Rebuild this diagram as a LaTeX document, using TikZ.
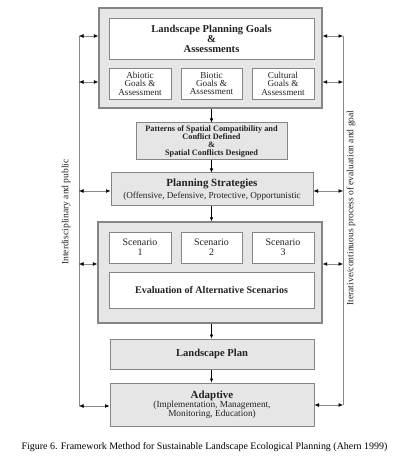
\documentclass[tikz,border=0pt]{standalone}
\usepackage{fontspec}
\setmainfont{Liberation Serif}
\usetikzlibrary{arrows.meta}
\definecolor{boxfill}{HTML}{E6E6E6}
\definecolor{boxline}{HTML}{858585}
\definecolor{sideline}{HTML}{8A8A8A}
\definecolor{txt}{HTML}{222222}
\begin{document}
\begin{tikzpicture}[x=1bp,y=-1bp,
  outerbox/.style={draw=boxline,line width=1.4bp,fill=boxfill,inner sep=0pt},
  whitebox/.style={draw=boxline,line width=0.9bp,fill=white,inner sep=0pt,align=center,text=txt},
  graybox/.style={draw=boxline,line width=1bp,fill=boxfill,inner sep=0pt,align=center,text=txt},
  flow/.style={-{Latex[length=4bp,width=3.5bp]},line width=0.6bp,black},
  side/.style={{Latex[length=4.5bp,width=3.8bp,color=black]}-{Latex[length=4.5bp,width=3.8bp,color=black]},line width=0.5bp,draw=sideline},
  vline/.style={draw=sideline,line width=1bp},
  sidetext/.style={rotate=90,font=\fontsize{9.6}{10}\selectfont,text=txt,inner sep=0pt}
]
\useasboundingbox[fill=white] (0,0) rectangle (408,464);

% outer group 1
\node[outerbox,minimum width=223bp,minimum height=100bp] (outer1) at (210.5,58) {};
\node[whitebox,minimum width=205bp,minimum height=41bp,font=\fontsize{10.6}{10}\selectfont\bfseries] (goals) at (211.5,38.5)
  {Landscape Planning Goals\\\&\\Assessments};
\node[whitebox,minimum width=62bp,minimum height=31bp,font=\fontsize{9.2}{8.5}\selectfont] (abiotic) at (140,83.5)
  {Abiotic\\Goals \&\\Assessment};
\node[whitebox,minimum width=61bp,minimum height=31bp,font=\fontsize{9.2}{8.5}\selectfont] (biotic) at (211.5,83.5)
  {Biotic\\Goals \&\\Assessment};
\node[whitebox,minimum width=62bp,minimum height=31bp,font=\fontsize{9.2}{8.5}\selectfont] (cultural) at (283,83.5)
  {Cultural\\Goals \&\\Assessment};

% patterns
\node[graybox,minimum width=151bp,minimum height=37bp,font=\fontsize{8.3}{8.3}\selectfont\bfseries] (patterns) at (211.5,141.5)
  {Patterns of Spatial Compatibility and\\Conflict Defined\\\&\\Spatial Conflicts Designed};

% planning strategies
\node[graybox,minimum width=202bp,minimum height=33bp,font=\fontsize{9.2}{11.5}\selectfont] (strategies) at (212,189.5)
  {\textbf{\fontsize{11}{11}\selectfont Planning Strategies}\\(Offensive, Defensive, Protective, Opportunistic};

% outer group 2
\node[outerbox,minimum width=224bp,minimum height=101bp] (outer2) at (210,272.5) {};
\node[whitebox,minimum width=62bp,minimum height=31bp,font=\fontsize{10}{10}\selectfont] (sc1) at (140,247.5)
  {Scenario\\1};
\node[whitebox,minimum width=61bp,minimum height=31bp,font=\fontsize{10}{10}\selectfont] (sc2) at (211.5,247.5)
  {Scenario\\2};
\node[whitebox,minimum width=62bp,minimum height=31bp,font=\fontsize{10}{10}\selectfont] (sc3) at (283,247.5)
  {Scenario\\3};
\node[whitebox,minimum width=205bp,minimum height=36bp,font=\fontsize{10.1}{10}\selectfont\bfseries] (evaluation) at (211.5,290)
  {Evaluation of Alternative Scenarios};

% landscape plan
\node[graybox,minimum width=204bp,minimum height=30bp,font=\fontsize{10.6}{10}\selectfont\bfseries] (plan) at (212,354)
  {Landscape Plan};

% adaptive
\node[graybox,minimum width=204bp,minimum height=43bp,font=\fontsize{9.3}{8.8}\selectfont] (adaptive) at (212,404.5)
  {\textbf{\fontsize{11}{11}\selectfont Adaptive}\\(Implementation, Management,\\Monitoring, Education)};

% flow arrows
\draw[flow] (outer1.south -| patterns.north) -- (patterns.north);
\draw[flow] (patterns.south) -- (patterns.south |- strategies.north);
\draw[flow] (strategies.south -| patterns.north) -- (outer2.north -| patterns.north);
\draw[flow] (outer2.south -| patterns.north) -- (plan.north -| patterns.north);
\draw[flow] (plan.south -| patterns.north) -- (adaptive.north -| patterns.north);

% left feedback line
\coordinate (L1) at (79,36);
\coordinate (L2) at (79,82);
\coordinate (L3) at (79,191);
\coordinate (L4) at (79,264);
\coordinate (L5) at (79,406);
\draw[vline] (L1) -- (L5);
\draw[side] (L1) -- (L1 -| outer1.west);
\draw[side] (L2) -- (L2 -| outer1.west);
\draw[side] (L3) -- (L3 -| strategies.west);
\draw[side] (L4) -- (L4 -| outer2.west);
\draw[side] (L5) -- (L5 -| adaptive.west);

% right feedback line
\coordinate (R1) at (343,36);
\coordinate (R2) at (343,82);
\coordinate (R3) at (343,191);
\coordinate (R4) at (343,264);
\coordinate (R5) at (343,405);
\draw[vline] (R1) -- (R5);
\draw[side] (R1 -| outer1.east) -- (R1);
\draw[side] (R2 -| outer1.east) -- (R2);
\draw[side] (R3 -| strategies.east) -- (R3);
\draw[side] (R4 -| outer2.east) -- (R4);
\draw[side] (R5 -| adaptive.east) -- (R5);

% side labels
\node[sidetext] (lefttext) at (66,212) {Interdisciplinary and public};
\node[sidetext] (righttext) at (351,208) {Iterative/continuous process of evaluation and goal};

% caption
\node[font=\fontsize{10}{12}\selectfont,text=black,inner sep=0pt] (caption) at (204.5,447)
  {Figure 6. Framework Method for Sustainable Landscape Ecological Planning (Ahern 1999)};
\end{tikzpicture}
\end{document}
